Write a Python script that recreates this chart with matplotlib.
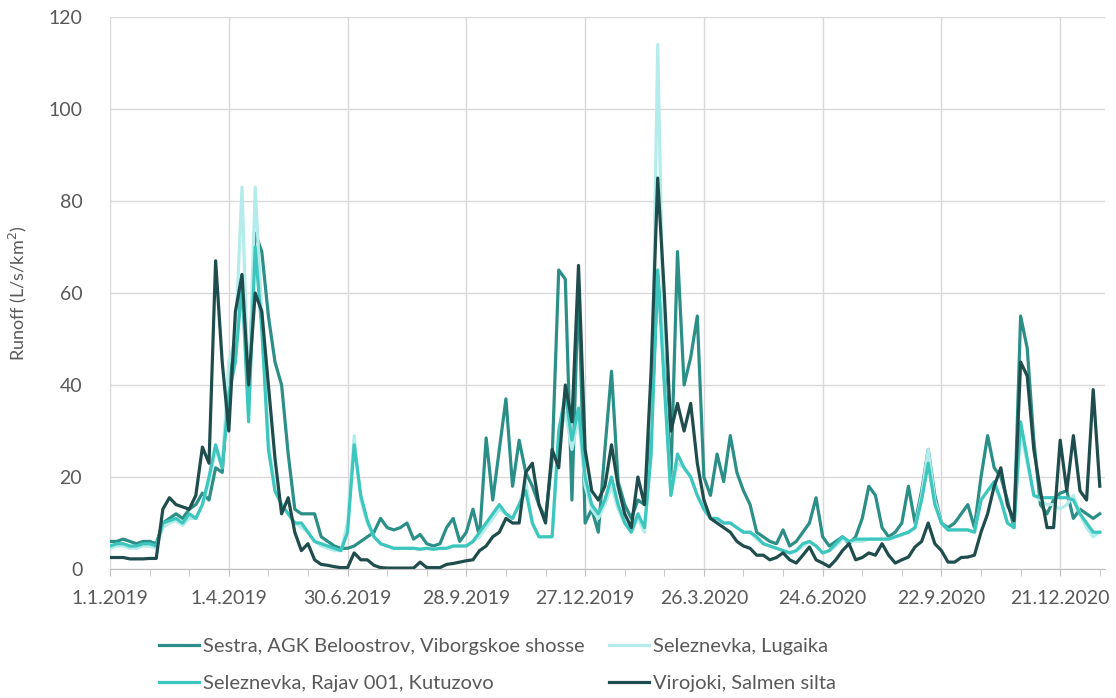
import matplotlib
matplotlib.use("Agg")
import matplotlib.pyplot as plt
import numpy as np
import pandas as pd

plt.rcParams['font.family'] = ['Lato', 'DejaVu Sans']

# daily runoff sampled every 5 days from 1.1.2019 (L/s/km2)
sestra = [6, 6, 6.5, 6, 5.5, 6, 6, 5.5,
          10, 11, 12, 11, 13, 14, 16.5, 15,
          22, 21, 40, 50, 64, 40, 73, 69,
          55, 45, 40, 25, 13, 12, 12, 12,
          7, 6, 5, 4.5, 4.5, 5, 6, 7,
          8, 11, 9, 8.5, 9, 10, 6.5, 7.5,
          5.5, 5, 5.5, 9, 11, 6, 8, 13,
          7, 28.5, 15, 26, 37, 18, 28, 21,
          18, 14, 11, 24, 65, 63, 15, 62,
          10, 13, 8, 26, 43, 19, 14, 11,
          15, 14, 30, 64, 45, 20, 69, 40,
          46, 55, 20, 16, 25, 19, 29, 21,
          17, 14, 8, 7, 6, 5.5, 8.5, 5,
          6, 8, 10, 15.5, 7, 5, 6, 7,
          5.5, 7, 11, 18, 16, 9, 7, 8,
          10, 18, 10, 17, 26, 16, 10, 9,
          10, 12, 14, 9, 20, 29, 22, 20,
          15, 9, 55, 48, 28, 14, 12, 15,
          16.5, 17, 11, 13, 12, 11, 12]

lugaika = [4.5, 5, 5, 4.5, 4.5, 5, 5, 4.5,
           9, 10, 10.5, 9.5, 11, 11, 14, 19,
           26, 22, 45, 50, 83, 36, 83, 55,
           28, 17, 14, 12, 10, 9, 8, 6,
           5, 4.5, 4, 4, 10, 29, 15, 10,
           7, 5.5, 5, 4.5, 4.5, 4.5, 4.5, 4.3,
           4.5, 4.3, 4.5, 4.5, 5, 5, 5, 6,
           7, 9, 11, 13, 12, 11, 14, 19,
           10, 7, 7, 7, 28, 34, 26, 33,
           18, 13, 11, 14, 18, 13, 10, 8,
           11, 8, 25, 114, 42, 16, 23, 22,
           20, 16, 13, 11, 11, 10, 10, 9,
           8, 8, 6.5, 5.5, 5, 4.5, 4, 3.5,
           4, 5, 6, 5, 3.5, 4, 5, 6.5,
           6, 6, 6, 6.5, 6.5, 6.5, 6.5, 7,
           7.5, 8, 9, 16, 26, 15, 10, 8.5,
           8.5, 8.5, 8.5, 8, 15, 17, 18, 15,
           10, 9, 30, 23, 16, 15, 14, 14,
           13, 14, 16, 12, 9, 7, 8]

kutuzovo = [5, 5.5, 5.5, 5, 5, 5.5, 5.5, 5,
            10, 10.5, 11, 10, 12, 11, 14, 20,
            27, 22, 38, 45, 62, 32, 70, 52,
            26, 17, 14, 12, 10, 10, 8, 6,
            5.5, 5, 4.5, 4, 8, 27, 16, 10.5,
            7, 5.5, 5, 4.5, 4.5, 4.5, 4.5, 4.3,
            4.5, 4.3, 4.5, 4.5, 5, 5, 5, 6,
            8, 10, 12, 14, 12, 11, 14, 17,
            10, 7, 7, 7, 30, 38, 28, 35,
            20, 14, 12, 15, 20, 14, 10, 8,
            12, 9, 25, 65, 40, 16, 25, 22,
            20, 16, 13, 11, 11, 10, 10, 9,
            8, 8, 7, 5.5, 5, 4.5, 4, 3.5,
            4, 5.5, 6, 5, 3.5, 4, 5.5, 7,
            6, 6.5, 6.5, 6.5, 6.5, 6.5, 6.5, 7,
            7.5, 8, 9, 15, 23, 14, 10, 8.5,
            8.5, 8.5, 8.5, 8, 15, 17, 19, 15,
            10, 9, 32, 24, 16, 15.5, 15.5, 15.5,
            15.5, 15.5, 15, 12, 10, 8, 8]

virojoki = [2.5, 2.5, 2.5, 2.2, 2.2, 2.2, 2.3, 2.3,
            13, 15.5, 14, 13.5, 13, 16, 26.5, 23,
            67, 45, 30, 56, 64, 40, 60, 56,
            40, 24, 12, 15.5, 8, 4, 5.5, 2,
            1, 0.8, 0.5, 0.3, 0.3, 3.5, 2, 2,
            0.8, 0.3, 0.2, 0.2, 0.2, 0.2, 0.2, 1.5,
            0.3, 0.3, 0.3, 1, 1.2, 1.5, 1.8, 2,
            4, 5, 7, 8, 11, 10, 10, 21,
            23, 14, 10, 26, 22, 40, 32, 66,
            26, 17, 15, 18, 27, 18, 12, 9,
            20, 14, 43, 85, 60, 30, 36, 30,
            36, 23, 15, 11, 10, 9, 8, 6,
            5, 4.5, 3, 3, 2, 2.5, 3.5, 2,
            1.3, 3, 4.8, 2, 1.3, 0.5, 2, 4,
            5.5, 2, 2.5, 3.5, 3, 5.5, 3, 1.3,
            2, 2.6, 4.8, 6, 10, 5.5, 4, 1.5,
            1.5, 2.5, 2.6, 3, 8, 12, 18, 22,
            14, 10.5, 45, 42, 26, 17, 9, 9,
            28, 17, 29, 17, 15, 39, 18]

tick_labels = ['1.1.2019', '1.4.2019', '30.6.2019', '28.9.2019', '27.12.2019',
               '26.3.2020', '24.6.2020', '22.9.2020', '21.12.2020']

dates = pd.date_range('2019-01-01', periods=len(sestra), freq='5D')
tick_dates = pd.to_datetime(tick_labels, format='%d.%m.%Y')

fig = plt.figure(figsize=(11.16, 6.98), dpi=100)
ax = fig.add_axes([0.0986, 0.1848, 0.8916, 0.7908])

l1, = ax.plot(dates, sestra, color='#2b8f87', lw=2.3, label='Sestra, AGK Beloostrov, Viborgskoe shosse')
l2, = ax.plot(dates, lugaika, color='#b3eceb', lw=2.3, label='Seleznevka, Lugaika')
l3, = ax.plot(dates, kutuzovo, color='#3cc6bd', lw=2.3, label='Seleznevka, Rajav 001, Kutuzovo')
l4, = ax.plot(dates, virojoki, color='#1f4d4d', lw=2.3, label='Virojoki, Salmen silta')

start = pd.Timestamp('2019-01-01')
ax.set_xlim(start, start + pd.Timedelta(days=754))
ax.set_ylim(0, 120)
ax.set_yticks(np.arange(0, 121, 20))

ax.set_xticks(tick_dates)
ax.set_xticklabels(tick_labels)
ax.set_xticks(pd.date_range(start, periods=26, freq='30D'), minor=True)

ax.grid(True, color='#d9d9d9', lw=1.0)
ax.set_axisbelow(True)
for s in ['top', 'right', 'left']:
    ax.spines[s].set_visible(False)
ax.spines['bottom'].set_color('#bfbfbf')

ax.tick_params(axis='y', length=0, pad=20, labelsize=14, labelcolor='#595959')
ax.tick_params(axis='x', which='major', length=5, color='#bfbfbf', pad=10,
               labelsize=14, labelcolor='#595959')
ax.tick_params(axis='x', which='minor', length=5, color='#bfbfbf')

ax.set_ylabel('Runoff (L/s/km$^2$)', fontsize=13, color='#595959', labelpad=14)

fig.legend(handles=[l1, l3, l2, l4], ncol=2, loc='upper left',
           bbox_to_anchor=(0.135, 0.098), frameon=False, fontsize=14.5,
           labelcolor='#595959', handlelength=2.0, handletextpad=0.2,
           columnspacing=1.2, labelspacing=1.0, borderaxespad=0)

fig.savefig('out.png', dpi=100)
